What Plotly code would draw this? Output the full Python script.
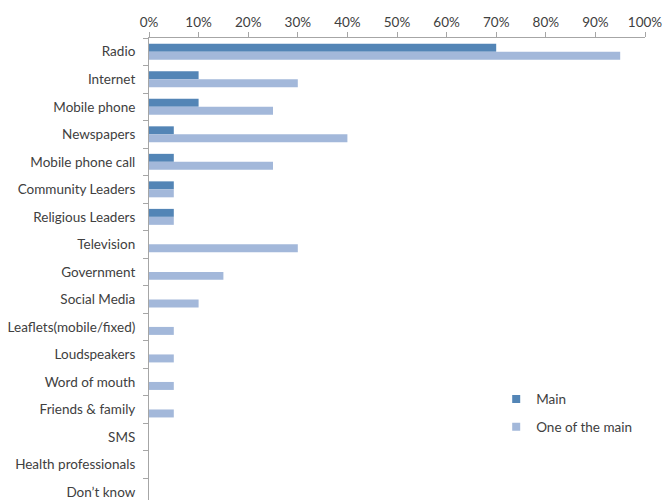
import plotly.graph_objects as go

# Information sources, ordered top to bottom
categories = [
    "Radio", "Internet", "Mobile phone", "Newspapers", "Mobile phone call",
    "Community Leaders", "Religious Leaders", "Television", "Government",
    "Social Media", "Leaflets(mobile/fixed)", "Loudspeakers", "Word of mouth",
    "Friends & family", "SMS", "Health professionals", "Don\u2019t know",
]

# Share of respondents (%)
main_source = [70, 10, 10, 5, 5, 5, 5, 0, 0, 0, 0, 0, 0, 0, 0, 0, 0]
one_of_main = [95, 30, 25, 40, 25, 5, 5, 30, 15, 10, 5, 5, 5, 5, 0, 0, 0]

tick_vals = [0, 10, 20, 30, 40, 50, 60, 70, 80, 90, 100]
tick_text = [f"{v}%" for v in tick_vals]

font_family = "Lato, 'Open Sans', sans-serif"
text_color = "#404040"
axis_color = "#A6A6A6"
main_color = "#5385B6"
other_color = "#A3B8DA"

fig = go.Figure()
fig.add_trace(go.Bar(
    name="Main", y=categories, x=main_source, orientation="h",
    marker=dict(color=main_color, line=dict(width=0)), showlegend=False,
))
fig.add_trace(go.Bar(
    name="One of the main", y=categories, x=one_of_main, orientation="h",
    marker=dict(color=other_color, line=dict(width=0)), showlegend=False,
))

# Legend entries with small square swatches
for name, color, grp in [("Main", main_color, "a"), ("One of the main", other_color, "b")]:
    fig.add_trace(go.Scatter(
        name=name, x=[None], y=[None], mode="markers",
        marker=dict(symbol="square", size=8, color=color),
        legendgroup=grp, showlegend=True,
    ))

fig.update_layout(
    width=665, height=500,
    margin=dict(l=149, r=20, t=38, b=0),
    paper_bgcolor="white", plot_bgcolor="white",
    barmode="group", bargap=0.42, bargroupgap=0,
    font=dict(family=font_family, size=13.5, color=text_color),
    showlegend=True,
    legend=dict(
        x=0.700, y=0.2515, xanchor="left", yanchor="top",
        traceorder="grouped", tracegroupgap=7, itemsizing="trace",
        font=dict(size=13.5, color=text_color),
        bgcolor="rgba(0,0,0,0)",
    ),
    xaxis=dict(
        side="top", range=[0, 100], tickvals=tick_vals, ticktext=tick_text,
        showgrid=False, zeroline=False, showline=True, linecolor=axis_color,
        linewidth=1, ticks="outside", ticklen=5, tickcolor=axis_color,
        tickfont=dict(size=13.5, color=text_color),
    ),
    yaxis=dict(
        type="category", categoryorder="array", categoryarray=categories,
        range=[16.29, -0.5], showgrid=False, zeroline=False, showline=True,
        linecolor=axis_color, linewidth=1, ticks="outside", ticklen=5,
        tickcolor=axis_color, tickson="boundaries", ticklabelstandoff=10,
        tickfont=dict(size=13.5, color=text_color),
    ),
)

fig.write_html("out.html")
